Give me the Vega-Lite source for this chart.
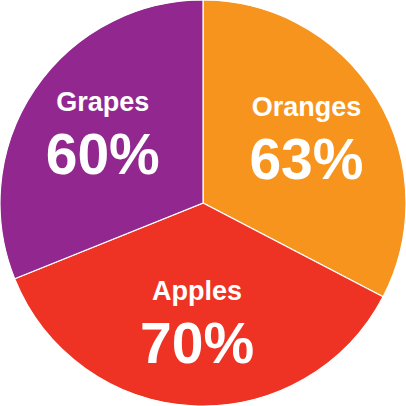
{
  "$schema": "https://vega.github.io/schema/vega-lite/v6.json",
  "width": 406,
  "height": 406,
  "autosize": {"type": "fit", "contains": "padding"},
  "padding": 0,
  "background": "white",
  "view": {"stroke": null},
  "data": {
    "values": [
      {"fruit": "Oranges", "value": 63, "pct": "63%", "order": 1},
      {"fruit": "Apples", "value": 70, "pct": "70%", "order": 2},
      {"fruit": "Grapes", "value": 60, "pct": "60%", "order": 3}
    ]
  },
  "encoding": {
    "theta": {"field": "value", "type": "quantitative", "stack": true},
    "order": {"field": "order", "type": "quantitative"},
    "color": {
      "field": "fruit",
      "type": "nominal",
      "scale": {"domain": ["Oranges", "Apples", "Grapes"], "range": ["#F7941E", "#EE3324", "#92278F"]},
      "legend": null
    }
  },
  "layer": [
    {
      "mark": {"type": "arc", "outerRadius": 203, "stroke": "white", "strokeWidth": 1.2}
    },
    {
      "mark": {"type": "text", "radius": 121, "dy": -32, "fontSize": 27, "fontWeight": "bold", "font": "Liberation Sans", "fill": "white", "align": "center", "baseline": "middle"},
      "encoding": {"text": {"field": "fruit"}, "color": {"value": "white"}}
    },
    {
      "mark": {"type": "text", "radius": 121, "dy": 22, "fontSize": 57, "fontWeight": "bold", "font": "Liberation Sans", "fill": "white", "align": "center", "baseline": "middle"},
      "encoding": {"text": {"field": "pct"}, "color": {"value": "white"}}
    }
  ]
}
